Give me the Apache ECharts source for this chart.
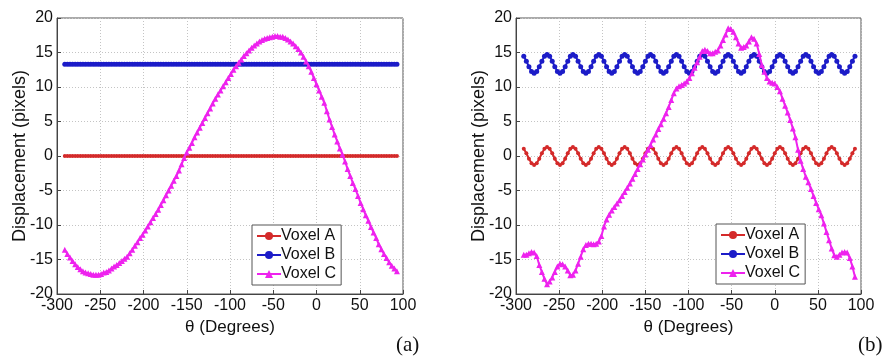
<!DOCTYPE html>
<html>
<head>
<meta charset="utf-8">
<script src="https://cdn.jsdelivr.net/npm/echarts@6/dist/echarts.min.js"></script>
<style>
html,body{margin:0;padding:0;background:#fff;}
#c{width:885px;height:360px;}
</style>
</head>
<body>
<div id="c"></div>
<script>
const theta = [-291,-288,-285,-282,-279,-276,-273,-270,-267,-264,
-261,-258,-255,-252,-249,-246,-243,-240,-237,-234,
-231,-228,-225,-222,-219,-216,-213,-210,-207,-204,
-201,-198,-195,-192,-189,-186,-183,-180,-177,-174,
-171,-168,-165,-162,-159,-156,-153,-150,-147,-144,
-141,-138,-135,-132,-129,-126,-123,-120,-117,-114,
-111,-108,-105,-102,-99,-96,-93,-90,-87,-84,
-81,-78,-75,-72,-69,-66,-63,-60,-57,-54,
-51,-48,-45,-42,-39,-36,-33,-30,-27,-24,
-21,-18,-15,-12,-9,-6,-3,0,3,6,
9,12,15,18,21,24,27,30,33,36,
39,42,45,48,51,54,57,60,63,66,
69,72,75,78,81,84,87,90,93];

// Panel (a)
const aVoxelA = [0,0,0,0,0,0,0,0,0,0,
0,0,0,0,0,0,0,0,0,0,
0,0,0,0,0,0,0,0,0,0,
0,0,0,0,0,0,0,0,0,0,
0,0,0,0,0,0,0,0,0,0,
0,0,0,0,0,0,0,0,0,0,
0,0,0,0,0,0,0,0,0,0,
0,0,0,0,0,0,0,0,0,0,
0,0,0,0,0,0,0,0,0,0,
0,0,0,0,0,0,0,0,0,0,
0,0,0,0,0,0,0,0,0,0,
0,0,0,0,0,0,0,0,0,0,
0,0,0,0,0,0,0,0,0];
const aVoxelB = [13.3,13.3,13.3,13.3,13.3,13.3,13.3,13.3,13.3,13.3,
13.3,13.3,13.3,13.3,13.3,13.3,13.3,13.3,13.3,13.3,
13.3,13.3,13.3,13.3,13.3,13.3,13.3,13.3,13.3,13.3,
13.3,13.3,13.3,13.3,13.3,13.3,13.3,13.3,13.3,13.3,
13.3,13.3,13.3,13.3,13.3,13.3,13.3,13.3,13.3,13.3,
13.3,13.3,13.3,13.3,13.3,13.3,13.3,13.3,13.3,13.3,
13.3,13.3,13.3,13.3,13.3,13.3,13.3,13.3,13.3,13.3,
13.3,13.3,13.3,13.3,13.3,13.3,13.3,13.3,13.3,13.3,
13.3,13.3,13.3,13.3,13.3,13.3,13.3,13.3,13.3,13.3,
13.3,13.3,13.3,13.3,13.3,13.3,13.3,13.3,13.3,13.3,
13.3,13.3,13.3,13.3,13.3,13.3,13.3,13.3,13.3,13.3,
13.3,13.3,13.3,13.3,13.3,13.3,13.3,13.3,13.3,13.3,
13.3,13.3,13.3,13.3,13.3,13.3,13.3,13.3,13.3];
const aVoxelC = [-13.6,-14.2,-14.7,-15.2,-15.7,-16.1,-16.4,-16.7,-16.9,-17.0,
-17.1,-17.2,-17.2,-17.2,-17.1,-16.9,-16.8,-16.6,-16.3,-16.0,
-15.8,-15.5,-15.2,-14.9,-14.6,-14.1,-13.6,-13.0,-12.5,-11.9,
-11.4,-10.8,-10.2,-9.6,-9.0,-8.4,-7.8,-7.1,-6.4,-5.7,
-5.0,-4.3,-3.6,-2.9,-2.1,-1.2,-0.3,0.5,1.2,1.9,
2.7,3.4,4.1,4.8,5.5,6.2,6.9,7.6,8.3,8.9,
9.5,10.1,10.7,11.3,11.9,12.5,13.0,13.5,14.0,14.5,
14.9,15.3,15.7,16.0,16.3,16.6,16.8,17.0,17.1,17.2,
17.3,17.4,17.4,17.3,17.3,17.1,16.9,16.6,16.3,15.9,
15.5,15.0,14.4,13.7,13.0,12.2,11.3,10.4,9.5,8.6,
7.7,6.5,5.3,4.2,3.1,2.1,1.1,0.2,-0.8,-1.9,
-2.9,-3.9,-4.8,-5.8,-6.8,-7.7,-8.6,-9.4,-10.3,-11.1,
-11.9,-12.8,-13.5,-14.2,-14.8,-15.4,-15.9,-16.3,-16.7];

// Panel (b)
const bVoxelA = [1.05,0.40,-0.40,-1.05,-1.3,-1.05,-0.40,0.40,1.05,1.3,
1.05,0.40,-0.40,-1.05,-1.3,-1.05,-0.40,0.40,1.05,1.3,
1.05,0.40,-0.40,-1.05,-1.3,-1.05,-0.40,0.40,1.05,1.3,
1.05,0.40,-0.40,-1.05,-1.3,-1.05,-0.40,0.40,1.05,1.3,
1.05,0.40,-0.40,-1.05,-1.3,-1.05,-0.40,0.40,1.05,1.3,
1.05,0.40,-0.40,-1.05,-1.3,-1.05,-0.40,0.40,1.05,1.3,
1.05,0.40,-0.40,-1.05,-1.3,-1.05,-0.40,0.40,1.05,1.3,
1.05,0.40,-0.40,-1.05,-1.3,-1.05,-0.40,0.40,1.05,1.3,
1.05,0.40,-0.40,-1.05,-1.3,-1.05,-0.40,0.40,1.05,1.3,
1.05,0.40,-0.40,-1.05,-1.3,-1.05,-0.40,0.40,1.05,1.3,
1.05,0.40,-0.40,-1.05,-1.3,-1.05,-0.40,0.40,1.05,1.3,
1.05,0.40,-0.40,-1.05,-1.3,-1.05,-0.40,0.40,1.05,1.3,
1.05,0.40,-0.40,-1.05,-1.3,-1.05,-0.40,0.40,1.05];
const bVoxelB = [14.45,13.75,12.95,12.25,12.0,12.25,12.95,13.75,14.45,14.7,
14.45,13.75,12.95,12.25,12.0,12.25,12.95,13.75,14.45,14.7,
14.45,13.75,12.95,12.25,12.0,12.25,12.95,13.75,14.45,14.7,
14.45,13.75,12.95,12.25,12.0,12.25,12.95,13.75,14.45,14.7,
14.45,13.75,12.95,12.25,12.0,12.25,12.95,13.75,14.45,14.7,
14.45,13.75,12.95,12.25,12.0,12.25,12.95,13.75,14.45,14.7,
14.45,13.75,12.95,12.25,12.0,12.25,12.95,13.75,14.45,14.7,
14.45,13.75,12.95,12.25,12.0,12.25,12.95,13.75,14.45,14.7,
14.45,13.75,12.95,12.25,12.0,12.25,12.95,13.75,14.45,14.7,
14.45,13.75,12.95,12.25,12.0,12.25,12.95,13.75,14.45,14.7,
14.45,13.75,12.95,12.25,12.0,12.25,12.95,13.75,14.45,14.7,
14.45,13.75,12.95,12.25,12.0,12.25,12.95,13.75,14.45,14.7,
14.45,13.75,12.95,12.25,12.0,12.25,12.95,13.75,14.45];
const bVoxelC = [-14.3,-14.3,-14.1,-13.9,-14.0,-14.5,-15.8,-16.8,-17.8,-18.6,
-18.2,-17.6,-16.8,-16.0,-15.6,-15.7,-16.0,-16.6,-17.3,-17.2,
-16.6,-15.6,-14.6,-13.5,-12.9,-12.7,-12.7,-12.8,-12.7,-12.4,
-11.6,-10.2,-9.2,-8.5,-7.9,-7.4,-6.9,-6.4,-5.8,-5.2,
-4.6,-4.0,-3.3,-2.6,-1.9,-1.2,-0.5,0.2,0.9,1.6,
2.4,3.1,3.9,4.6,5.4,6.2,7.1,8.1,9.1,9.8,
10.1,10.3,10.5,10.8,11.3,12.0,12.8,13.6,14.4,15.2,
15.4,15.2,14.9,14.9,15.1,15.3,16.0,16.8,17.6,18.5,
18.4,18.0,17.2,16.3,15.7,15.8,16.0,16.6,17.2,17.0,
16.3,14.8,13.2,12.2,11.3,10.8,10.6,10.5,10.0,9.4,
8.3,7.3,6.3,5.2,4.0,2.7,0.9,-0.7,-1.9,-3.0,
-3.8,-4.8,-5.8,-6.8,-7.7,-8.6,-9.8,-11.0,-12.2,-13.4,
-14.4,-14.6,-14.3,-14.0,-13.9,-14.0,-14.8,-16.0,-17.5];

const seriesNames = ['Voxel A','Voxel B','Voxel C'];
const xTicks = {min:-300, max:100, interval:50};
const yTicks = {min:-20, max:20, interval:5};
const xName = 'θ (Degrees)';
const yName = 'Displacement (pixels)';
const panelTags = ['(a)','(b)'];

const colors = ['#d42a2a','#1c1cc8','#ee22ee'];
const symbols = ['circle','circle','triangle'];
const symSizes = [4,5,6];
const FONT = 'Liberation Sans, Arial, sans-serif';

function pairs(v){ return theta.map((t,i)=>[t, v[i]]); }

function xAxis(gi){
  return {type:'value', gridIndex:gi, min:xTicks.min, max:xTicks.max, interval:xTicks.interval,
    name:xName, nameLocation:'middle', nameGap:19,
    nameTextStyle:{fontFamily:FONT, fontSize:17, color:'#111'},
    axisLine:{show:true, onZero:false, lineStyle:{color:'#444', width:1}},
    axisTick:{show:true, inside:true, length:4, lineStyle:{color:'#444'}},
    axisLabel:{fontFamily:FONT, fontSize:16, color:'#111', margin:4},
    splitLine:{show:true, lineStyle:{color:'#c4c4c4', type:[1,2], width:1}}};
}
function yAxis(gi){
  return {type:'value', gridIndex:gi, min:yTicks.min, max:yTicks.max, interval:yTicks.interval,
    name:yName, nameLocation:'middle', nameGap:28, nameRotate:90, nameMoveOverlap:false,
    nameTextStyle:{fontFamily:FONT, fontSize:18, color:'#111'},
    axisLine:{show:true, onZero:false, lineStyle:{color:'#444', width:1}},
    axisTick:{show:true, inside:true, length:4, lineStyle:{color:'#444'}},
    axisLabel:{fontFamily:FONT, fontSize:16, color:'#111', margin:4},
    splitLine:{show:true, lineStyle:{color:'#c4c4c4', type:[1,2], width:1}}};
}
function mk(name, idx, data, gi){
  return {type:'line', name:name, xAxisIndex:gi, yAxisIndex:gi, data:pairs(data),
    symbol:symbols[idx], symbolSize:symSizes[idx], showSymbol:true,
    lineStyle:{color:colors[idx], width:2}, itemStyle:{color:colors[idx]},
    animation:false, z: 2+idx};
}
function legend(left, top){
  return {left:left, top:top, orient:'vertical', data:seriesNames,
    backgroundColor:'#fff', borderColor:'#555', borderWidth:1, borderRadius:0,
    padding:[2,5,2,4], itemGap:1, itemWidth:24, itemHeight:10,
    textStyle:{fontFamily:FONT, fontSize:16, lineHeight:18, color:'#111', padding:[0,0,0,-5]},
    selectedMode:false};
}

const chart = echarts.init(document.getElementById('c'), null, {renderer:'canvas'});
chart.setOption({
  backgroundColor:'#fff',
  animation:false,
  grid:[
    {left:57, right:482, top:18, bottom:66, show:true, borderColor:'#555', borderWidth:1},
    {left:516, right:24, top:18, bottom:66, show:true, borderColor:'#555', borderWidth:1}
  ],
  xAxis:[xAxis(0), xAxis(1)],
  yAxis:[yAxis(0), yAxis(1)],
  legend:[legend(252,225), legend(716,224)],
  series:[
    mk(seriesNames[0],0,aVoxelA,0), mk(seriesNames[1],1,aVoxelB,0), mk(seriesNames[2],2,aVoxelC,0),
    mk(seriesNames[0],0,bVoxelA,1), mk(seriesNames[1],1,bVoxelB,1), mk(seriesNames[2],2,bVoxelC,1)
  ],
  graphic:[
    {type:'text', left:396, top:335, style:{text:panelTags[0], font:'21px "Liberation Serif", serif', fill:'#111'}},
    {type:'text', left:858, top:335, style:{text:panelTags[1], font:'21px "Liberation Serif", serif', fill:'#111'}}
  ]
});
</script>
</body>
</html>
